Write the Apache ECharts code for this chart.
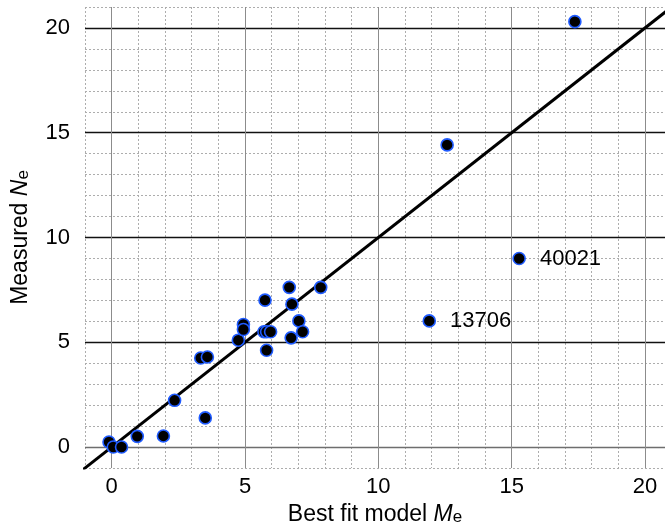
<!DOCTYPE html>
<html>
<head>
<meta charset="utf-8">
<script src="https://cdn.jsdelivr.net/npm/echarts@6/dist/echarts.min.js"></script>
<style>
html,body{margin:0;padding:0;background:#fff;}
#c{width:665px;height:531px;}
</style>
</head>
<body>
<div id="c"></div>
<script>
// Best fit model Me (x) vs measured Ne (y)
const xValues = [-0.1, 0.06, 0.37, 0.96, 1.94, 2.36, 3.51, 3.34, 3.59, 4.75, 4.94, 4.94, 5.75, 5.71, 5.81, 5.96, 5.81, 6.66, 6.76, 7.02, 7.16, 6.73, 7.84, 12.58, 15.28, 11.91, 17.37];
const yValues = [0.24, 0.0, 0.0, 0.51, 0.53, 2.23, 1.39, 4.25, 4.30, 5.10, 5.85, 5.61, 7.01, 5.50, 5.50, 5.50, 4.62, 7.62, 6.82, 6.02, 5.50, 5.21, 7.62, 14.42, 9.0, 6.02, 20.3];
const pointNames = ['', '', '', '', '', '', '', '', '', '', '', '', '', '', '', '', '', '', '', '', '', '', '', '', '40021', '13706', ''];
const identityLine = [[-2, -2], [22, 22]];
const xMin = -1, xMax = 20.75, yMin = -1, yMax = 21;

const FONT = 'Liberation Sans, Arial, sans-serif';
const FS = 22;
const chart = echarts.init(document.getElementById('c'), null, {renderer: 'canvas'});

// ticks start at -1 with interval 1: index 1 -> 0, index 6 -> 5, ...
function majorColors(colorZero, colorMajor) {
  const arr = [];
  for (let i = 0; i < 25; i++) {
    if (i === 1) arr.push(colorZero);
    else if (i % 5 === 1) arr.push(colorMajor);
    else arr.push('transparent');
  }
  return arr;
}

const minorAxis = (min, max, pos) => ({
  type: 'value', min: min, max: max, interval: 1, z: 0, position: pos,
  axisLine: {show: false}, axisTick: {show: false}, axisLabel: {show: false},
  splitLine: {show: true, lineStyle: {color: '#adadad', width: 1, type: [2, 2]}}
});

const richName = {
  a: {fontFamily: FONT, fontSize: 23, color: '#000', verticalAlign: 'bottom', lineHeight: 27},
  i: {fontFamily: FONT, fontSize: 23, color: '#000', fontStyle: 'italic', verticalAlign: 'bottom', lineHeight: 27},
  s: {fontFamily: FONT, fontSize: 17, color: '#000', verticalAlign: 'bottom', lineHeight: 11}
};

const scatterData = xValues.map((x, i) => ({name: pointNames[i], value: [x, yValues[i]]}));

chart.setOption({
  animation: false,
  backgroundColor: '#fff',
  grid: {left: 85, right: 0, top: 7, bottom: 63, containLabel: false, outerBoundsMode: 'none'},
  xAxis: [
    minorAxis(xMin, xMax, 'top'),
    {
      type: 'value', min: xMin, max: xMax, interval: 1, z: 2, position: 'bottom',
      name: '{a|Best fit model }{i|M}{s|e}',
      nameLocation: 'middle', nameGap: 31,
      nameTextStyle: {rich: richName},
      axisLine: {show: false}, axisTick: {show: false},
      axisLabel: {
        show: true, margin: 8, fontFamily: FONT, fontSize: FS, color: '#000',
        formatter: v => (Math.abs(v % 5) < 1e-9 ? String(v) : '')
      },
      splitLine: {show: true, lineStyle: {color: majorColors('#8c8c8c', '#8c8c8c'), width: 1}}
    }
  ],
  yAxis: [
    minorAxis(yMin, yMax, 'right'),
    {
      type: 'value', min: yMin, max: yMax, interval: 1, z: 2, position: 'left',
      name: '{a|Measured }{i|N}{s|e}',
      nameLocation: 'middle', nameGap: 53, nameRotate: 90,
      nameTextStyle: {rich: richName},
      axisLine: {show: false}, axisTick: {show: false},
      axisLabel: {
        show: true, margin: 15, fontFamily: FONT, fontSize: FS, color: '#000',
        formatter: v => (Math.abs(v % 5) < 1e-9 ? String(v) : '')
      },
      splitLine: {show: true, lineStyle: {color: majorColors('#6e6e6e', '#111'), width: 1.4}}
    }
  ],
  series: [
    {
      type: 'line', xAxisIndex: 1, yAxisIndex: 1,
      data: identityLine, showSymbol: false, symbol: 'none', clip: true,
      lineStyle: {color: '#000', width: 3}, z: 3, silent: true
    },
    {
      type: 'scatter', xAxisIndex: 1, yAxisIndex: 1,
      data: scatterData, symbol: 'circle', symbolSize: 12, z: 4,
      itemStyle: {color: '#000', borderColor: '#1f5bff', borderWidth: 1.6, opacity: 1},
      label: {
        show: true, position: 'right', distance: 14,
        fontFamily: FONT, fontSize: FS, color: '#000',
        formatter: p => p.name
      }
    }
  ]
});
</script>
</body>
</html>
